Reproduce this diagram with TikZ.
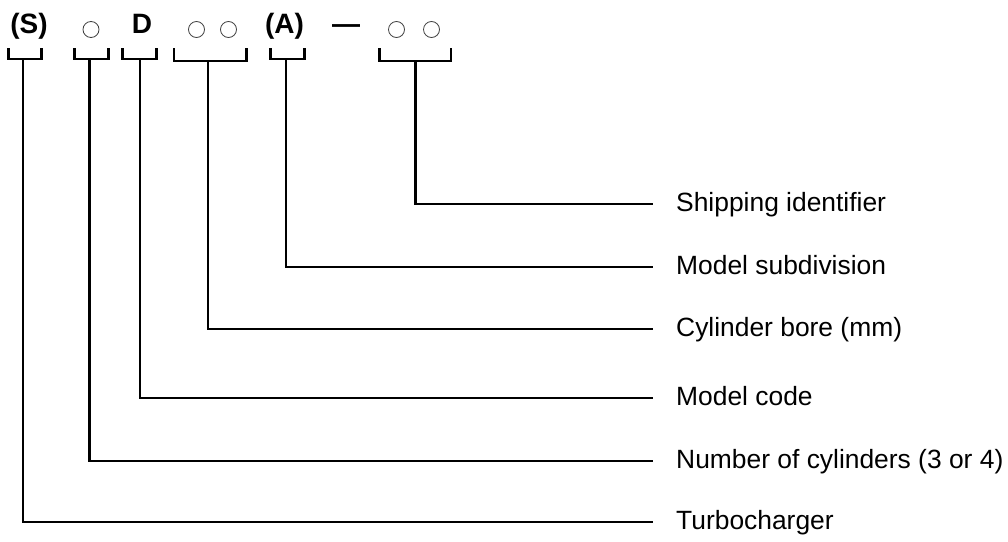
\documentclass[tikz,border=0pt]{standalone}
\usepackage{fontspec}
\setmainfont{Liberation Sans}
\begin{document}
\begin{tikzpicture}[x=1pt,y=-1pt,
  codepart/.style={anchor=base,inner sep=0pt,font=\fontsize{28}{32}\selectfont\bfseries},
  slot/.style={circle,draw=black!75,line width=0.8pt,minimum size=16pt,inner sep=0pt},
  bracket/.style={line width=2.2pt,line join=miter},
  leader/.style={line width=2.2pt,line join=miter},
  caption/.style={anchor=base west,inner sep=0pt,font=\fontsize{26.4}{30}\selectfont}]
\useasboundingbox (0,0) rectangle (1008,541);

% model code
\node[codepart] (hS) at (29,33.5) {(S)};
\node[slot] (c1) at (91,29.5) {};
\node[codepart] (hD) at (142,33.5) {D};
\node[slot] (c2) at (196.5,29.5) {};
\node[slot] (c3) at (228.5,29.5) {};
\node[codepart] (hA) at (284.5,33.5) {(A)};
\node[codepart] (hdash) at (346,33.5) {—};
\node[slot] (c4) at (396.5,29.5) {};
\node[slot] (c5) at (431.5,29.5) {};

% brackets under each part of the code
\draw[bracket] (8.5,48) -- (8.5,59) -- (41.5,59) -- (41.5,48);
\draw[bracket] (74.5,48) -- (74.5,59) -- (108.5,59) -- (108.5,48);
\draw[bracket] (122.5,48) -- (122.5,59) -- (156.5,59) -- (156.5,48);
\draw[bracket] (174,48) -- (174,61) -- (246.5,61) -- (246.5,48);
\draw[bracket] (270.5,48) -- (270.5,59) -- (304.5,59) -- (304.5,48);
\draw[bracket] (379.5,48) -- (379.5,61) -- (451,61) -- (451,48);

\coordinate (bS) at (23,59);
\coordinate (bN) at (89.5,59);
\coordinate (bD) at (140,59);
\coordinate (bB) at (208,61);
\coordinate (bA) at (286,59);
\coordinate (bX) at (415.5,61);

% leader line ends
\coordinate (eX) at (653,204);
\coordinate (eA) at (653,267);
\coordinate (eB) at (653,329);
\coordinate (eD) at (653,398);
\coordinate (eN) at (653,461);
\coordinate (eS) at (653,522);

% captions
\node[caption] (lX) at (676,211) {Shipping identifier};
\node[caption] (lA) at (676,274) {Model subdivision};
\node[caption] (lB) at (676,336) {Cylinder bore (mm)};
\node[caption] (lD) at (676,405) {Model code};
\node[caption] (lN) at (676,468) {Number of cylinders (3 or 4)};
\node[caption] (lS) at (676,529) {Turbocharger};

% leaders
\draw[leader] (bX) |- (eX);
\draw[leader] (bA) |- (eA);
\draw[leader] (bB) |- (eB);
\draw[leader] (bD) |- (eD);
\draw[leader] (bN) |- (eN);
\draw[leader] (bS) |- (eS);
\end{tikzpicture}
\end{document}
